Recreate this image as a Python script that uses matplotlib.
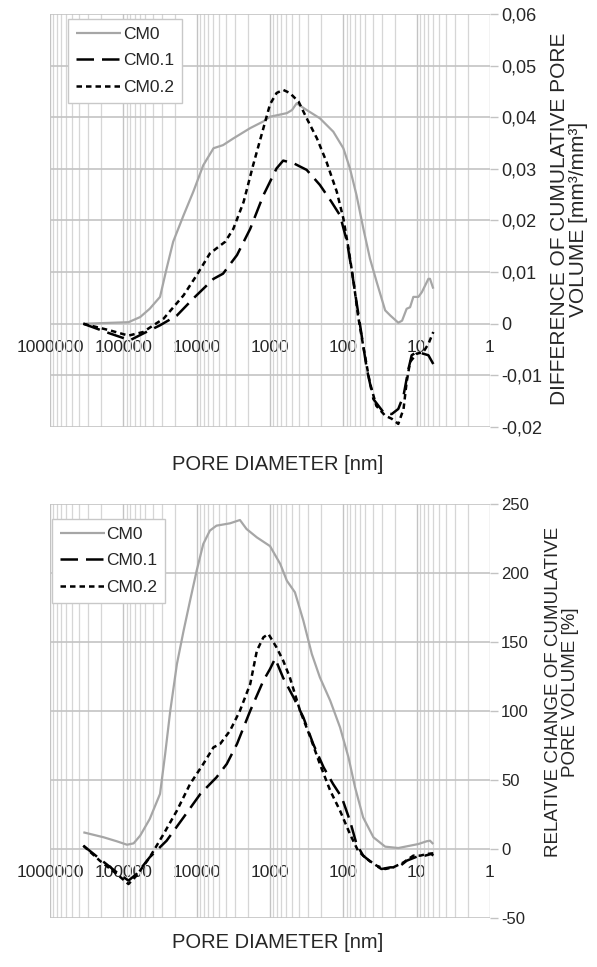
import matplotlib
matplotlib.use("Agg")
import matplotlib.pyplot as plt
from matplotlib.ticker import FixedLocator, LogLocator, FuncFormatter, NullFormatter

plt.rcParams['font.family'] = ['Liberation Sans', 'DejaVu Sans']

# ---------------- data (pore diameter in nm) ----------------
# Top: difference of cumulative pore volume [mm3/mm3]
top_cm0_d = [351000, 85100, 58900, 43700, 31600, 25700, 20900, 15100, 11100, 8130, 5890, 4370,
             3160, 1860, 1230, 1000, 589, 501, 433, 316, 209, 137, 100, 81.3, 66.1, 53.3, 43.3,
             35.1, 26.9, 22.9, 17.8, 15.8, 13.7, 12.3, 11.1, 9.48, 8.51, 6.92, 6.58, 5.93]
top_cm0_v = [0, 0.0003, 0.0013, 0.0029, 0.0052, 0.0107, 0.0159, 0.021, 0.0256, 0.0307, 0.034, 0.0346,
             0.0359, 0.0379, 0.0392, 0.0401, 0.0408, 0.0414, 0.0427, 0.0414, 0.0398, 0.0372, 0.034,
             0.0301, 0.0249, 0.0184, 0.0126, 0.0081, 0.0026, 0.0016, 0.0002, 0.0006, 0.0029, 0.0032,
             0.0052, 0.0052, 0.0061, 0.0087, 0.0087, 0.0068]

top_cm01_d = [351000, 151000, 81300, 53700, 31600, 18600, 11100, 5890, 4370, 2820, 1860, 1230, 1000,
              813, 661, 479, 316, 209, 145, 111, 89.1, 77.6, 66.1, 56.2, 47.9, 38.9, 28.2, 21.9,
              17.8, 15.1, 12.9, 11.7, 10, 8.13, 6.92, 5.93]
top_cm01_v = [0, -0.0019, -0.0032, -0.0019, -0.0003, 0.0016, 0.0049, 0.0087, 0.0097, 0.0133, 0.0184,
              0.0249, 0.0275, 0.0301, 0.0316, 0.0311, 0.0298, 0.0269, 0.0236, 0.021, 0.0159, 0.0107,
              0.0042, -0.0023, -0.0087, -0.0146, -0.0172, -0.0175, -0.0165, -0.0139, -0.0087,
              -0.0061, -0.0055, -0.0058, -0.0061, -0.0078]

top_cm02_d = [351000, 151000, 85100, 53700, 28200, 15100, 10000, 6610, 5370, 4070, 3160, 2290, 1700,
              1230, 1000, 813, 661, 537, 407, 316, 229, 170, 123, 100, 85.1, 72.4, 63.1, 53.7, 43.7,
              35.5, 26.9, 21.9, 17.8, 15.1, 13.7, 12.3, 10, 8.13, 6.92, 5.93]
top_cm02_v = [0, -0.0013, -0.0023, -0.0016, 0.001, 0.0055, 0.0094, 0.0136, 0.0146, 0.0159, 0.0184,
              0.0236, 0.0307, 0.0379, 0.0425, 0.0447, 0.0453, 0.0447, 0.043, 0.0398, 0.0359, 0.0314,
              0.0256, 0.0204, 0.0146, 0.0081, 0.0016, -0.0042, -0.0113, -0.0159, -0.0178, -0.0184,
              -0.0194, -0.0165, -0.0113, -0.0074, -0.0058, -0.0055, -0.0039, -0.0016]

# Bottom: relative change of cumulative pore volume [%]
bot_cm0_d = [351000, 186000, 123000, 89100, 72400, 58900, 43700, 31600, 26900, 22900, 18600, 15100,
             12300, 10000, 8130, 6610, 5370, 3510, 2570, 2090, 1510, 1000, 724, 589, 457, 351, 269,
             209, 151, 111, 85.1, 69.2, 53.7, 38.9, 26.9, 17.8, 12.3, 9.48, 7.31, 6.58, 5.93]
bot_cm0_v = [12.1, 8.5, 5.6, 3.1, 4.1, 9.7, 21.7, 39.9, 68.8, 100.2, 134, 158, 180, 201.7, 221, 230.7,
             234.3, 236, 238.4, 231.9, 225.8, 219.5, 206.5, 194.4, 186, 165.5, 141.3, 124.4, 107.5,
             88.2, 66.4, 44.7, 22.9, 8.5, 1.7, 0.7, 2.4, 3.6, 5.6, 6, 3.6]

bot_cm01_d = [351000, 209000, 123000, 85100, 66100, 43700, 25700, 15100, 8910, 5370, 3890, 2820, 1860,
              1230, 1000, 851, 661, 479, 351, 257, 186, 138, 105, 81.3, 66.1, 53.7, 38.9, 30.2, 22.9,
              17.8, 13.7, 10, 7.69, 6.31, 5.93]
bot_cm01_v = [2.4, -7.2, -16.9, -22.9, -18.1, -6, 6, 22.9, 39.9, 51.9, 61.6, 76.1, 100.2, 122, 130.4,
              138, 124, 110, 95.4, 76, 59.2, 47.1, 37.4, 20.5, 3.6, -4.8, -10.9, -14.5, -13.3, -13.3,
              -8.5, -5.6, -4.8, -3.6, -4.8]

bot_cm02_d = [351000, 209000, 123000, 85100, 66100, 43700, 28200, 18600, 12300, 8130, 5890, 4790, 3510,
              2570, 1860, 1510, 1230, 1050, 813, 661, 537, 389, 282, 209, 151, 111, 81.3, 63.1, 47.9,
              35.1, 26.9, 20.9, 15.1, 11.1, 8.91, 7.24, 5.93]
bot_cm02_v = [2.4, -8.5, -18.1, -25.4, -19.3, -6, 10.9, 27.8, 47.1, 61.6, 73.7, 76.1, 85.7, 100.2, 119.6,
              143.7, 153.4, 155.8, 146, 136.5, 124.4, 100.2, 81, 61.6, 42.3, 27.8, 10.9, -1.2, -7.2,
              -12.1, -14.5, -13.3, -9.7, -4.8, -4.8, -3.6, -3.1]

series_names = ["CM0", "CM0.1", "CM0.2"]
x_ticks = [1000000, 100000, 10000, 1000, 100, 10, 1]
x_tick_labels = ["1000000", "100000", "10000", "1000", "100", "10", "1"]
top_yticks = [-0.02, -0.01, 0, 0.01, 0.02, 0.03, 0.04, 0.05, 0.06]
bot_yticks = [-50, 0, 50, 100, 150, 200, 250]

# ---------------- styling ----------------
TXT = '#262626'
GRID_MAJ = '#c3c3c3'
GRID_MIN = '#d6d6d6'
styles = [dict(color='#a6a6a6', lw=1.6, ls='-'),
          dict(color='black', lw=1.8, dashes=(7, 3.2)),
          dict(color='black', lw=1.8, dashes=(2.2, 1.6))]

W, H = 597, 967
fig = plt.figure(figsize=(W / 100, H / 100), dpi=100)


def make_axes(rect, yticks, yfmt, series, ytick_fs, legend_anchor):
    ax = fig.add_axes(rect)
    ax.set_xscale('log')
    for (d, v), name, st in zip(series, series_names, styles):
        line, = ax.plot(d, v, label=name, color=st['color'], lw=st['lw'],
                        solid_capstyle='butt', dash_capstyle='butt', zorder=3)
        if 'dashes' in st:
            line.set_dashes(st['dashes'])
    ax.set_xlim(1e6, 1)
    ax.set_ylim(yticks[0], yticks[-1])
    ax.xaxis.set_major_locator(FixedLocator(x_ticks))
    ax.set_xticklabels(x_tick_labels)
    ax.xaxis.set_minor_locator(LogLocator(base=10, subs=range(2, 10), numticks=50))
    ax.xaxis.set_minor_formatter(NullFormatter())
    ax.yaxis.set_major_locator(FixedLocator(yticks))
    ax.yaxis.set_major_formatter(FuncFormatter(yfmt))
    ax.yaxis.tick_right()
    for s in ax.spines.values():
        s.set_visible(False)
    ax.spines['bottom'].set_position(('data', 0))
    ax.tick_params(axis='x', which='both', length=0, pad=11.5, labelsize=12.5, labelcolor=TXT)
    ax.tick_params(axis='y', which='major', length=6, width=1.0, color=GRID_MAJ, pad=2,
                   labelsize=ytick_fs, labelcolor=TXT, right=True, left=False)
    ax.grid(True, axis='y', which='major', color=GRID_MAJ, lw=1.2, zorder=0)
    ax.grid(True, axis='x', which='major', color=GRID_MAJ, lw=1.0, zorder=0)
    ax.grid(True, axis='x', which='minor', color=GRID_MIN, lw=0.9, zorder=0)
    ax.set_axisbelow(True)
    leg = ax.legend(loc='upper left', bbox_to_anchor=legend_anchor, frameon=True, fancybox=False,
                    edgecolor='#c8c8c8', framealpha=1, fontsize=12.5, handlelength=2.6,
                    handletextpad=0.1, labelspacing=0.65, borderpad=0.45, borderaxespad=0)
    leg.get_frame().set_linewidth(1.0)
    for t in leg.get_texts():
        t.set_color(TXT)
    return ax


def fmt_top(v, pos):
    if abs(v) < 1e-12:
        return "0"
    return f"{v:.2f}".replace('.', ',')


def fmt_bot(v, pos):
    return f"{v:.0f}"


L = 50 / W
Wd = 440 / W
ax1 = make_axes([L, 1 - 427 / H, Wd, 413 / H], top_yticks, fmt_top,
                [(top_cm0_d, top_cm0_v), (top_cm01_d, top_cm01_v), (top_cm02_d, top_cm02_v)],
                13, (0.041, 0.988))
ax2 = make_axes([L, 1 - 918 / H, Wd, 414 / H], bot_yticks, fmt_bot,
                [(bot_cm0_d, bot_cm0_v), (bot_cm01_d, bot_cm01_v), (bot_cm02_d, bot_cm02_v)],
                12, (0.004, 0.964))

fig.text(278 / W, 1 - 465 / H, "PORE DIAMETER [nm]", ha='center', va='center', fontsize=14.5, color=TXT)
fig.text(278 / W, 1 - 943 / H, "PORE DIAMETER [nm]", ha='center', va='center', fontsize=14.5, color=TXT)
fig.text(569 / W, 1 - 219 / H, "DIFFERENCE OF CUMULATIVE PORE\nVOLUME [mm³/mm³]",
         ha='center', va='center', rotation=90, fontsize=15, color=TXT, linespacing=1.05,
         multialignment='center')
fig.text(562 / W, 1 - 692 / H, "RELATIVE CHANGE OF CUMULATIVE\nPORE VOLUME [%]",
         ha='center', va='center', rotation=90, fontsize=13.5, color=TXT, linespacing=1.05,
         multialignment='center')

fig.savefig("out.png", dpi=100)
